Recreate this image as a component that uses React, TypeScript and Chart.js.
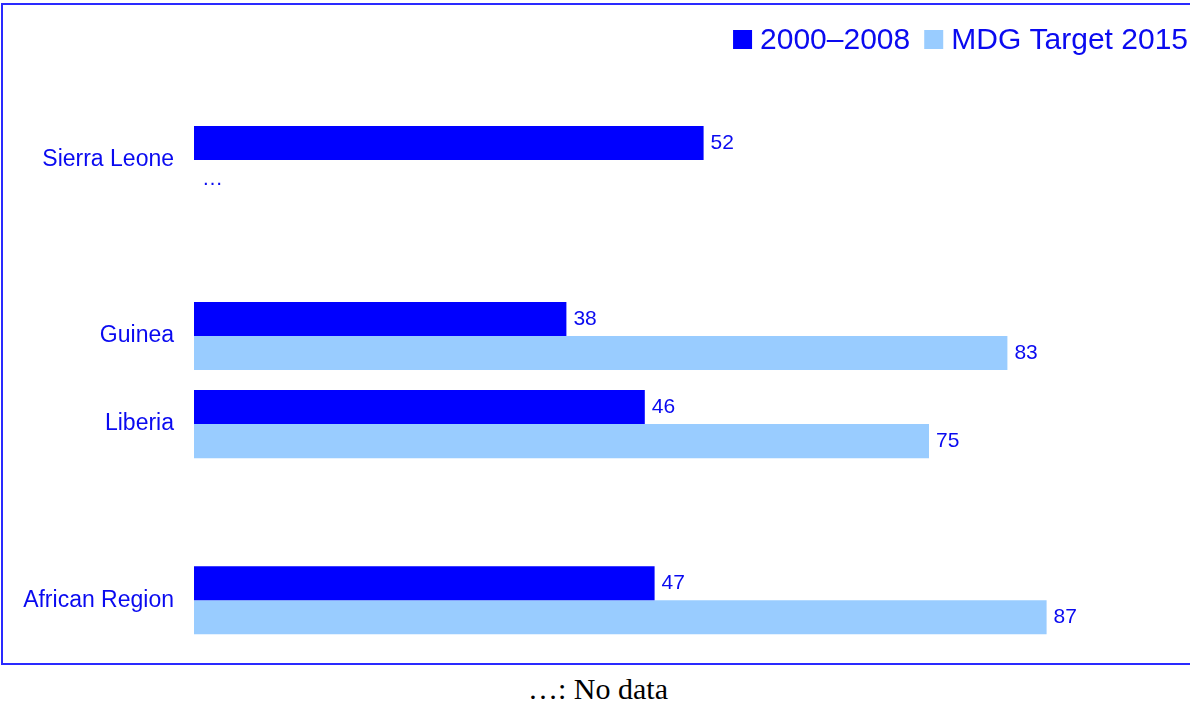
import React, { useEffect, useRef } from "react";
import { Chart, registerables } from "chart.js";

Chart.register(...registerables);

const categories = ["Sierra Leone", "", "Guinea", "Liberia", "", "African Region"];
const period2000_2008 = [52, null, 38, 46, null, 47];
const mdgTarget2015 = [null, null, 83, 75, null, 87];
const seriesLabels = ["2000–2008", "MDG Target 2015"];
const noDataMark = "…";
const footnote = "…: No data";

const DARK = "#0000ff";
const LIGHT = "#99ccff";
const TEXT = "#0a0af0";
const SANS = "'Liberation Sans', Arial, sans-serif";

const valueLabelPlugin = {
  id: "valueLabels",
  afterDatasetsDraw(chart: any) {
    const ctx = chart.ctx;
    ctx.save();
    ctx.font = `21px ${SANS}`;
    ctx.fillStyle = TEXT;
    ctx.textAlign = "left";
    ctx.textBaseline = "middle";
    chart.data.datasets.forEach((ds: any, di: number) => {
      const meta = chart.getDatasetMeta(di);
      meta.data.forEach((el: any, i: number) => {
        const v = ds.data[i];
        if (v === null || v === undefined) {
          if (categories[i] !== "" && di === 1) {
            const y = chart.scales.y.getPixelForValue(i) + 19;
            ctx.fillText(noDataMark, chart.chartArea.left + 8, y);
          }
          return;
        }
        ctx.fillText(String(v), el.x + 7, el.y);
      });
    });
    ctx.restore();
  },
};

const legendPlugin = {
  id: "customLegend",
  afterDraw(chart: any) {
    const ctx = chart.ctx;
    ctx.save();
    ctx.font = `30px ${SANS}`;
    ctx.textBaseline = "alphabetic";
    ctx.textAlign = "left";
    const box = 19;
    const gap = 8;
    const itemGap = 14;
    const widths = seriesLabels.map((l) => ctx.measureText(l).width);
    let total = 0;
    widths.forEach((w, i) => {
      total += box + gap + w + (i < widths.length - 1 ? itemGap : 0);
    });
    let x = chart.width - 2 - total;
    const colors = [DARK, LIGHT];
    seriesLabels.forEach((l, i) => {
      ctx.fillStyle = colors[i];
      ctx.fillRect(x, 30, box, box);
      x += box + gap;
      ctx.fillStyle = TEXT;
      ctx.fillText(l, x, 48.5);
      x += widths[i] + itemGap;
    });
    ctx.restore();
  },
};

export default function App() {
  const ref = useRef<HTMLCanvasElement | null>(null);
  useEffect(() => {
    if (!ref.current) return;
    const chart = new Chart(ref.current, {
      type: "bar",
      data: {
        labels: categories,
        datasets: [
          {
            label: seriesLabels[0],
            data: period2000_2008,
            backgroundColor: DARK,
            borderWidth: 0,
            categoryPercentage: 0.773,
            barPercentage: 1,
          },
          {
            label: seriesLabels[1],
            data: mdgTarget2015,
            backgroundColor: LIGHT,
            borderWidth: 0,
            categoryPercentage: 0.773,
            barPercentage: 1,
          },
        ],
      },
      options: {
        indexAxis: "y",
        responsive: false,
        animation: false,
        devicePixelRatio: 1,
        layout: { padding: { left: 0, right: 16, top: 116, bottom: 0 } },
        plugins: {
          legend: { display: false },
          tooltip: { enabled: false },
        },
        scales: {
          x: { display: false, min: 0, max: 100 },
          y: {
            grid: { display: false, drawTicks: false },
            border: { display: false },
            ticks: {
              color: TEXT,
              font: { family: SANS, size: 23 },
              padding: 20,
            },
            afterFit(scale: any) {
              scale.width = 194;
            },
          },
        },
      },
      plugins: [valueLabelPlugin, legendPlugin],
    } as any);
    return () => chart.destroy();
  }, []);

  return (
    <div
      style={{
        position: "fixed",
        left: 0,
        top: 0,
        width: 1190,
        height: 706,
        overflow: "hidden",
        background: "#fff",
      }}
    >
      <div
        style={{
          position: "absolute",
          left: 1,
          top: 3,
          width: 1210,
          height: 662,
          boxSizing: "border-box",
          border: "2px solid #2a2aff",
        }}
      />
      <div
        style={{
          position: "absolute",
          left: 0,
          width: 1196,
          top: 671,
          textAlign: "center",
          fontFamily: "'Liberation Serif', 'Times New Roman', serif",
          fontSize: 30,
          lineHeight: "36px",
          color: "#000",
        }}
      >
        {footnote}
      </div>
      <canvas
        ref={ref}
        width={1190}
        height={678}
        style={{ position: "absolute", left: 0, top: 0, width: 1190, height: 678 }}
      />
    </div>
  );
}
